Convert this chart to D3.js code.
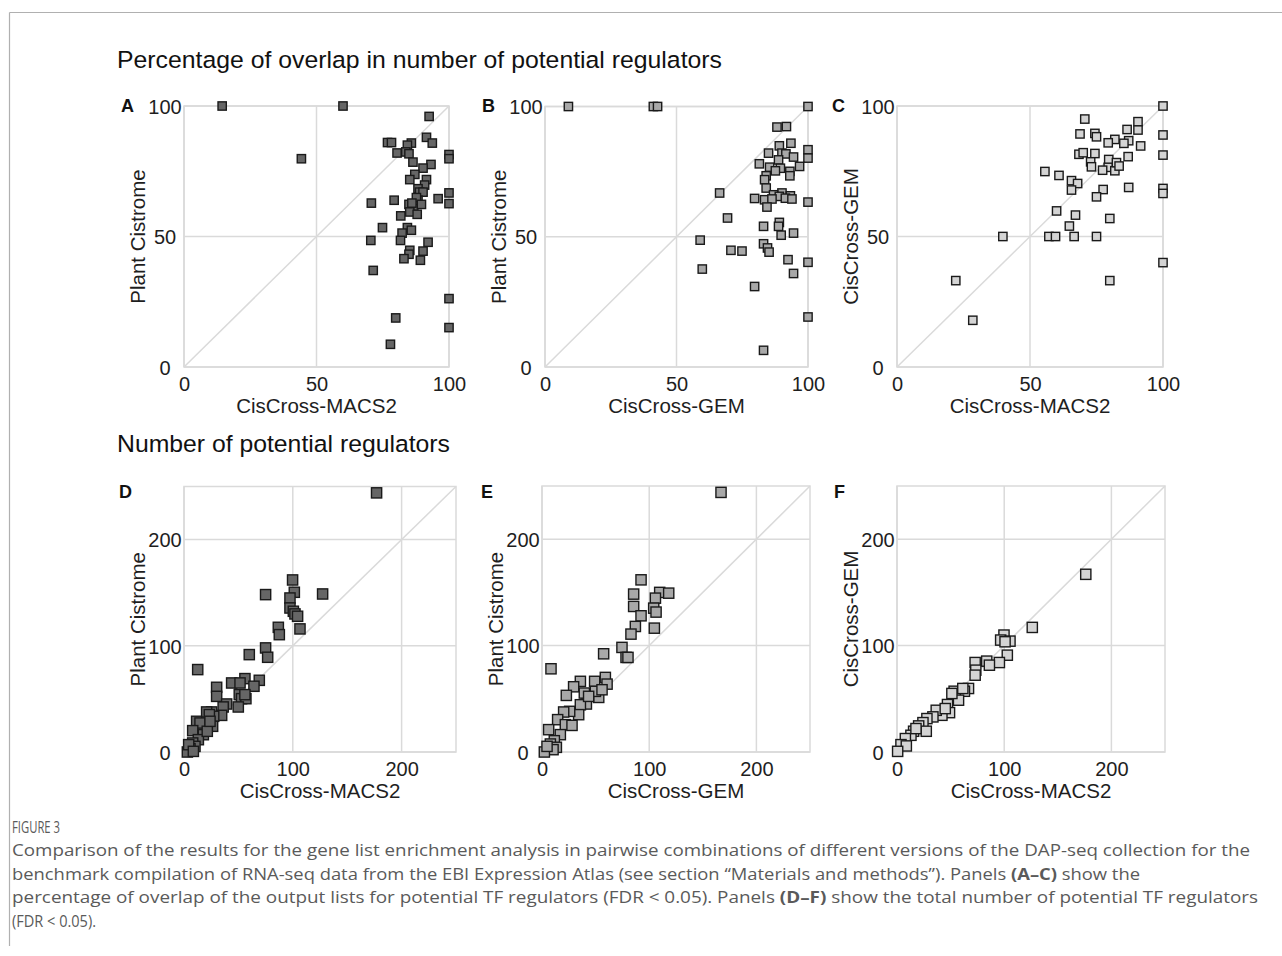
<!DOCTYPE html>
<html lang="en">
<head>
    <meta charset="UTF-8">
    <title>Figure 3</title>
    <script src="https://cdn.jsdelivr.net/npm/d3@7"></script>
    <style>
        body { margin: 0; background: #fff; }
        svg { display: block; font-family: "Liberation Sans", Arial, sans-serif; }
        .tick text { fill: #1e1e1e; font-size: 20px; }
        .grid line, .frame { stroke: #dadada; stroke-width: 1.5; fill: none; }
        .diag { stroke: #dadada; stroke-width: 1.5; }
        .axtitle { font-size: 20.5px; fill: #1e1e1e; }
        .letter { font-size: 18px; font-weight: bold; fill: #111; }
        .section { font-size: 24.5px; fill: #111; }
        .caption { font-family: "Open Sans", sans-serif; font-size: 16px; fill: #5a5a5a; }
    </style>
</head>
<body>
<svg id="fig" width="1282" height="956"></svg>

<script>
// tick values
var pctTicks = [0, 50, 100];
var numTicks = [0, 100, 200];

// A: CisCross-MACS2 vs Plant Cistrome (% overlap)
var aX = [14.4, 60, 44.3, 92.5, 91.5, 93.7, 76.8, 78.3, 85.8, 84.3, 80.4, 83.7, 84.9, 100, 100, 86.4, 93.2, 90.2, 87.1, 85.2, 91.5, 90.8, 88.3, 88.9, 90.2, 95.9, 100, 100, 70.7, 79.3, 84.9, 86.7, 88.3, 87.7, 81.8, 85.2, 88, 74.9, 84.3, 82.3, 85.8, 70.5, 81.7, 92.1, 85.2, 84.9, 90.2, 83, 89.2, 71.4, 100, 79.9, 100, 77.9, 86, 89.6];
var aY = [100, 100, 79.8, 96, 88, 85.8, 86, 86, 85.8, 85, 82, 82.4, 81.7, 81.4, 79.8, 78.5, 77.6, 76.2, 73.8, 71.8, 71.8, 69.7, 68.3, 67, 67, 64.5, 66.7, 62.6, 62.8, 63.9, 62.3, 61.6, 63.9, 64.9, 57.9, 59.4, 58.5, 53.4, 53.4, 51.3, 52.4, 48.5, 48.5, 47.8, 44.7, 43.2, 44.4, 41.5, 40.9, 37, 26.2, 18.8, 15.1, 8.7, 62.8, 62.3];

// B: CisCross-GEM vs Plant Cistrome (% overlap)
var bX = [8.9, 41.2, 42.8, 100, 88.2, 91.8, 93.5, 89.1, 85, 90.1, 91.6, 94.5, 100, 100, 88.8, 81.5, 85.4, 89.5, 96.8, 93.1, 87.6, 84.1, 83.5, 93.1, 84.1, 66.4, 90.1, 86.9, 89.1, 93.3, 91.4, 93.9, 79.7, 83.5, 86.3, 100, 84.4, 69.4, 89.1, 83.1, 88.8, 89.8, 94.5, 59, 83.1, 84.6, 85.2, 70.7, 74.9, 92.4, 100, 59.8, 94.5, 79.7, 100, 83.1];
var bY = [100, 100, 100, 100, 92.1, 92.3, 85.9, 84.9, 82.1, 82.1, 81.8, 80.6, 83.4, 80.2, 79.5, 78, 76.7, 76.3, 77, 75.1, 75.3, 73.4, 71.9, 73.4, 68.7, 66.8, 66.8, 66.1, 65.5, 65.7, 64.8, 64.5, 64.7, 64.2, 64.5, 63.3, 61.4, 57.2, 55.5, 54, 54, 50.6, 51.4, 48.7, 47.3, 45.7, 44.1, 44.8, 44.5, 41.2, 40.2, 37.6, 35.9, 30.9, 19.2, 6.4];

// C: CisCross-MACS2 vs CisCross-GEM (% overlap)
var cX = [100, 70.6, 90.6, 90.6, 86.5, 68.8, 100, 74.4, 75, 81.9, 87.1, 85.3, 79.4, 91.6, 68.4, 70, 74.4, 100, 86.9, 72.8, 73.1, 79.6, 79.4, 81.9, 82.5, 83.5, 77.3, 55.6, 60.9, 65.6, 67.9, 65.6, 77.5, 87.1, 100, 100, 75, 60, 67.1, 80, 64.8, 39.8, 57.1, 59.6, 66.6, 75, 100, 22.1, 80, 28.5];
var cY = [100, 95, 94, 90.8, 91, 89.3, 88.9, 89.5, 88.2, 87.2, 86.7, 85.7, 85.9, 84.7, 81.5, 82.1, 81.8, 81.2, 80.6, 78.6, 76.7, 79.5, 76.5, 75.2, 78.3, 77, 75.4, 74.9, 73.4, 71.4, 70.3, 67.8, 68, 68.8, 68.4, 66.5, 65.2, 59.8, 58.2, 56.9, 54, 50, 50, 50, 50, 50, 40, 33.1, 33.1, 17.9];

// D: number of regulators, CisCross-MACS2 vs Plant Cistrome
var dX = [177, 99.8, 127.4, 75, 101.4, 97.4, 97.4, 100.5, 102, 104.4, 106.6, 86.7, 87.6, 75, 76.9, 60, 12.6, 69.2, 56, 64.3, 43.8, 51.5, 30, 30, 50.8, 52.9, 56.9, 56, 39.2, 36, 49.9, 34.6, 25.4, 20.8, 27.3, 23.3, 26.3, 17.2, 11.6, 14.7, 8, 17.8, 13.2, 8, 10.1, 5.5, 3.1, 4.3, 8.6, 21.4, 23.9];
var dY = [244, 162, 148.8, 148.2, 150.4, 145, 135.6, 132.5, 130, 127.8, 115.9, 117.4, 110.5, 98, 89.2, 91.7, 77.6, 67.5, 69.1, 61.9, 65, 65, 60.9, 52.4, 54, 50.2, 50.2, 54, 45.2, 42.4, 42.4, 34.5, 37.7, 37.7, 33.6, 35.2, 24.2, 23.2, 28.9, 27.3, 20.1, 16.3, 11.6, 8.5, 5.3, 3.1, 0, 6.9, 0.6, 19.5, 28.9];

// E: number of regulators, CisCross-GEM vs Plant Cistrome
var eX = [167, 92.4, 85.5, 85.5, 109.8, 118.2, 105.8, 104.2, 106.4, 92.4, 87.1, 83, 104.8, 74.6, 78.4, 80.2, 57.5, 8.4, 35.8, 29.5, 22.7, 49.1, 59.1, 60.7, 52.9, 49.8, 56, 41.4, 35.8, 34.2, 25.8, 20.2, 14.6, 21.8, 28, 6.2, 17.1, 11.5, 7.8, 13.4, 10.3, 2.2, 4.7, 39.5, 43.5];
var eY = [244, 161.8, 148.4, 136.8, 150, 149.3, 144.6, 135.2, 131.5, 128, 118, 110.8, 116.4, 98.3, 88.9, 88.9, 92.3, 78.2, 66.4, 61.3, 53.2, 66.4, 70.1, 63.8, 51.3, 57, 58.5, 45.1, 44.4, 35.1, 38.2, 37.6, 30.4, 25.7, 25, 21, 16.3, 10.6, 7.5, 4.4, 2.2, 0, 5.3, 55.4, 52.3];

// F: number of regulators, CisCross-MACS2 vs CisCross-GEM
var fX = [176.1, 126.2, 99.8, 96.7, 105.4, 100.8, 102.9, 95.5, 83.7, 86.2, 72.9, 73.5, 72.9, 66.7, 62.9, 53.3, 54.3, 57.4, 47.1, 49, 41.9, 36.6, 33.5, 27.9, 24.2, 20.2, 27.3, 15.5, 13, 7.8, 3.7, 8.7, 0.6, 17.7, 45, 51.2, 61.4];
var fY = [167, 117.1, 109.9, 105.2, 104.2, 103.6, 91, 84.1, 85.4, 81.6, 84.1, 76.9, 72.2, 59.7, 57.1, 57.1, 50.9, 48.7, 44.6, 37, 34.5, 39.2, 33, 31.4, 27.6, 24.5, 19.5, 19.5, 15.7, 12.6, 6.9, 5.7, 0.6, 22, 40.8, 55, 59.7];

var svg = d3.select("#fig");

// page frame (top and left rule)
svg.append("line").attr("x1", 9.5).attr("x2", 1282).attr("y1", 12.5).attr("y2", 12.5)
    .attr("stroke", "#b0b0b0").attr("stroke-width", 1.2);
svg.append("line").attr("x1", 9.5).attr("x2", 9.5).attr("y1", 12.5).attr("y2", 946)
    .attr("stroke", "#b0b0b0").attr("stroke-width", 1.2);

svg.append("text").attr("class", "section").attr("x", 117).attr("y", 68)
    .attr("textLength", 605).attr("lengthAdjust", "spacingAndGlyphs")
    .text("Percentage of overlap in number of potential regulators");
svg.append("text").attr("class", "section").attr("x", 117).attr("y", 452)
    .attr("textLength", 333).attr("lengthAdjust", "spacingAndGlyphs")
    .text("Number of potential regulators");

var panels = [
    {id: "A", xs: aX, ys: aY, max: 100, ticks: pctTicks, l: 184, r: 449, t: 106, b: 367, fill: "#666", size: 8.3, lx: 121, ly: 112, xt: "CisCross-MACS2", yt: "Plant Cistrome"},
    {id: "B", xs: bX, ys: bY, max: 100, ticks: pctTicks, l: 545, r: 808, t: 106.5, b: 367, fill: "#a8a8a8", size: 8.3, lx: 482, ly: 112, xt: "CisCross-GEM", yt: "Plant Cistrome"},
    {id: "C", xs: cX, ys: cY, max: 100, ticks: pctTicks, l: 897, r: 1163, t: 106, b: 367, fill: "#d4d4d4", size: 8.3, lx: 832, ly: 112, xt: "CisCross-MACS2", yt: "CisCross-GEM"},
    {id: "D", xs: dX, ys: dY, max: 250, ticks: numTicks, l: 184, r: 456, t: 486.5, b: 752, fill: "#666", size: 10.2, lx: 119, ly: 498, xt: "CisCross-MACS2", yt: "Plant Cistrome"},
    {id: "E", xs: eX, ys: eY, max: 250, ticks: numTicks, l: 542, r: 810, t: 486, b: 752, fill: "#a8a8a8", size: 10.2, lx: 481, ly: 498, xt: "CisCross-GEM", yt: "Plant Cistrome"},
    {id: "F", xs: fX, ys: fY, max: 250, ticks: numTicks, l: 897, r: 1165, t: 486, b: 752, fill: "#d4d4d4", size: 10.2, lx: 834, ly: 498, xt: "CisCross-MACS2", yt: "CisCross-GEM"}
];

panels.forEach(function (p) {
    var x = d3.scaleLinear().domain([0, p.max]).range([p.l, p.r]);
    var y = d3.scaleLinear().domain([0, p.max]).range([p.b, p.t]);
    var g = svg.append("g");

    // grid
    var grid = g.append("g").attr("class", "grid");
    grid.selectAll("line.v").data(p.ticks).enter().append("line").attr("class", "v")
        .attr("x1", x).attr("x2", x).attr("y1", p.t).attr("y2", p.b);
    grid.selectAll("line.h").data(p.ticks).enter().append("line").attr("class", "h")
        .attr("y1", y).attr("y2", y).attr("x1", p.l).attr("x2", p.r);
    g.append("rect").attr("class", "frame")
        .attr("x", p.l).attr("y", p.t).attr("width", p.r - p.l).attr("height", p.b - p.t);
    g.append("line").attr("class", "diag")
        .attr("x1", x(0)).attr("y1", y(0)).attr("x2", x(p.max)).attr("y2", y(p.max));

    // axes (labels only)
    var xa = g.append("g").attr("transform", "translate(0," + p.b + ")")
        .call(d3.axisBottom(x).tickValues(p.ticks).tickSize(0).tickPadding(8));
    xa.select(".domain").remove();
    xa.selectAll("text").attr("dy", null).attr("y", 24);

    var ya = g.append("g").attr("transform", "translate(" + p.l + ",0)")
        .call(d3.axisLeft(y).tickValues(p.ticks).tickSize(0));
    ya.select(".domain").remove();
    ya.selectAll("text").attr("text-anchor", "middle").attr("x", -19).attr("dy", "0.36em");

    // titles
    g.append("text").attr("class", "axtitle").attr("text-anchor", "middle")
        .attr("x", (p.l + p.r) / 2).attr("y", p.b + 46).text(p.xt);
    g.append("text").attr("class", "axtitle").attr("text-anchor", "middle")
        .attr("transform", "translate(" + (p.l - 39) + "," + ((p.t + p.b) / 2) + ") rotate(-90)")
        .text(p.yt);
    g.append("text").attr("class", "letter").attr("x", p.lx).attr("y", p.ly).text(p.id);

    // points
    var pts = p.xs.map(function (v, i) { return [v, p.ys[i]]; });
    g.selectAll("rect.pt").data(pts).enter().append("rect").attr("class", "pt")
        .attr("x", function (d) { return x(d[0]) - p.size / 2; })
        .attr("y", function (d) { return y(d[1]) - p.size / 2; })
        .attr("width", p.size).attr("height", p.size)
        .attr("fill", p.fill).attr("stroke", "#1a1a1a").attr("stroke-width", 1.4);
});

// caption
svg.append("text").attr("class", "caption").attr("x", 12).attr("y", 833)
    .attr("font-size", 12).attr("textLength", 48).attr("lengthAdjust", "spacingAndGlyphs")
    .text("FIGURE 3");

var capLines = [
    {parts: [["Comparison of the results for the gene list enrichment analysis in pairwise combinations of different versions of the DAP-seq collection for the", false]], w: 1238},
    {parts: [["benchmark compilation of RNA-seq data from the EBI Expression Atlas (see section \u201cMaterials and methods\u201d). Panels ", false], ["(A\u2013C)", true], [" show the", false]], w: 1128},
    {parts: [["percentage of overlap of the output lists for potential TF regulators (FDR < 0.05). Panels ", false], ["(D\u2013F)", true], [" show the total number of potential TF regulators", false]], w: 1246},
    {parts: [["(FDR < 0.05).", false]], w: 84}
];
capLines.forEach(function (c, i) {
    var t = svg.append("text").attr("class", "caption").attr("x", 12).attr("y", 856 + i * 23.5)
        .attr("textLength", c.w).attr("lengthAdjust", "spacingAndGlyphs");
    c.parts.forEach(function (s) {
        t.append("tspan").attr("font-weight", s[1] ? "bold" : null).text(s[0]);
    });
});
</script>
</body>
</html>
